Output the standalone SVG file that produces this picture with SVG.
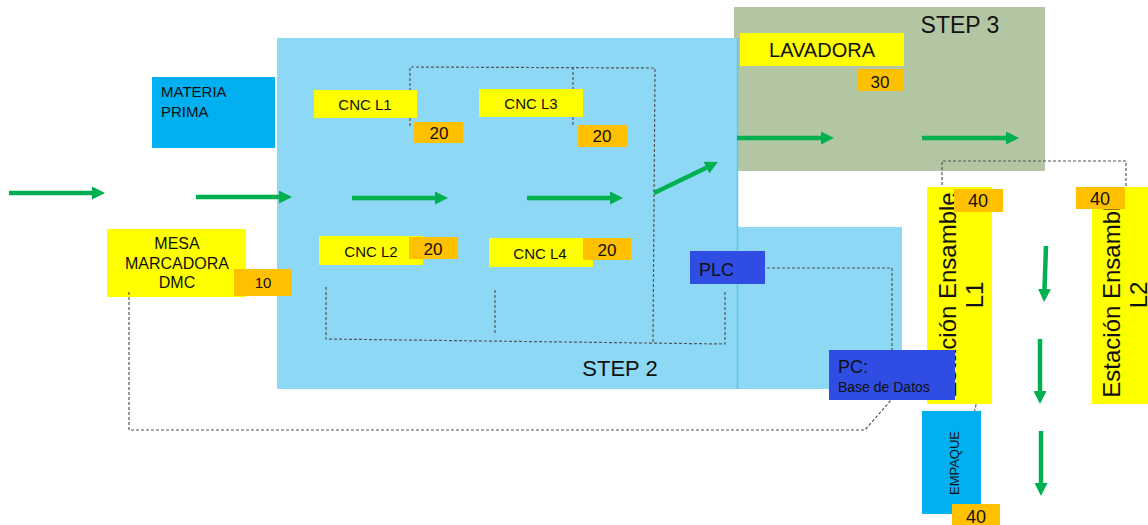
<svg xmlns="http://www.w3.org/2000/svg" width="1148" height="525" viewBox="0 0 1148 525">
<style>
text{font-family:"Liberation Sans",Arial,sans-serif;fill:#111}
.y{fill:#FFFF00}.o{fill:#FFC000}.b{fill:#00B0F0}.d{fill:#2F4DE2}
.flow{stroke:#00B050;stroke-width:4.5;fill:none;marker-end:url(#ah)}
.dash{stroke:#555;stroke-width:1.2;fill:none;stroke-dasharray:3 2}
.c{text-anchor:middle}
</style>
<defs>
<marker id="ah" viewBox="0 0 13 13" refX="0" refY="6.5" markerWidth="13" markerHeight="13" markerUnits="userSpaceOnUse" orient="auto">
<path d="M0,0 L13,6.5 L0,13 z" fill="#00B050"/>
</marker>
</defs>
<rect width="1148" height="525" fill="#fff"/>
<g id="step3">
<rect x="734" y="7" width="311" height="164" fill="#B2C6A4"/>
<text x="960" y="33" class="c" font-size="23">STEP 3</text>
</g>
<g id="step2">
<rect x="277" y="38" width="460" height="351" fill="#8DD9F5"/>
<rect x="737" y="227" width="165" height="162" fill="#8DD9F5"/>
<line x1="737.5" y1="38" x2="737.5" y2="389" stroke="#5CC6EE" stroke-width="1.5"/>
<text x="620" y="376" class="c" font-size="22">STEP 2</text>
</g>
<g id="materia-prima">
<rect x="152" y="77" width="123" height="71" class="b"/>
<text x="161" y="97" font-size="15">MATERIA</text>
<text x="161" y="117" font-size="15">PRIMA</text>
</g>
<g id="mesa">
<rect x="107" y="229" width="139" height="68" class="y"/>
<text x="177" y="249" class="c" font-size="16">MESA</text>
<text x="177" y="269" class="c" font-size="16">MARCADORA</text>
<text x="177" y="288" class="c" font-size="16">DMC</text>
<rect x="234" y="269" width="58" height="27" class="o"/>
<text x="263" y="288" class="c" font-size="15">10</text>
</g>
<g id="connectors">
<polyline class="dash" points="410,126 410,67 655,68 653,342"/>
<line class="dash" x1="573" y1="67" x2="573" y2="126"/>
<polyline class="dash" points="326,287 326,339 725,344 725,292"/>
<line class="dash" x1="495" y1="290" x2="495" y2="333"/>
<polyline class="dash" points="767,268 892,268 892,350"/>
<polyline class="dash" points="129,292 129,430 865,430 891,400"/>
<polyline class="dash" points="942,200 942,161 1126,161 1126,212"/>
<line class="dash" x1="981" y1="385" x2="968" y2="437"/>
<line class="flow" x1="9" y1="193" x2="92" y2="193"/>
<line class="flow" x1="196" y1="197" x2="279" y2="197"/>
<line class="flow" x1="352" y1="198" x2="435" y2="198"/>
<line class="flow" x1="527" y1="198" x2="610" y2="198"/>
<line class="flow" x1="654" y1="193" x2="706.3" y2="167.7"/>
<line class="flow" x1="737" y1="138" x2="821" y2="138"/>
<line class="flow" x1="922" y1="138" x2="1006" y2="138"/>
<line class="flow" x1="1046" y1="246" x2="1044.5" y2="289"/>
<line class="flow" x1="1040" y1="339" x2="1040" y2="391"/>
<line class="flow" x1="1041" y1="431" x2="1041" y2="483"/>
</g>
<g id="cnc-l1">
<rect x="314" y="90" width="103" height="28" class="y"/>
<text x="365" y="110" class="c" font-size="15">CNC L1</text>
<rect x="414" y="122" width="49" height="21" class="o"/>
<text x="439" y="139" class="c" font-size="17">20</text>
</g>
<g id="cnc-l3">
<rect x="479" y="89" width="104" height="28" class="y"/>
<text x="531" y="109" class="c" font-size="15">CNC L3</text>
<rect x="578" y="125" width="49" height="22" class="o"/>
<text x="602" y="142" class="c" font-size="17">20</text>
</g>
<g id="cnc-l2">
<rect x="319" y="236" width="104" height="29" class="y"/>
<text x="371" y="257" class="c" font-size="15">CNC L2</text>
<rect x="409" y="237" width="49" height="22" class="o"/>
<text x="433" y="255" class="c" font-size="17">20</text>
</g>
<g id="cnc-l4">
<rect x="489" y="238" width="104" height="29" class="y"/>
<text x="540" y="259" class="c" font-size="15">CNC L4</text>
<rect x="583" y="238" width="48" height="22" class="o"/>
<text x="607" y="256" class="c" font-size="17">20</text>
</g>
<g id="lavadora">
<rect x="740" y="33" width="164" height="33" class="y"/>
<text x="822" y="57" class="c" font-size="20">LAVADORA</text>
<rect x="857" y="69" width="47" height="22" class="o"/>
<text x="880" y="88" class="c" font-size="17">30</text>
</g>
<g id="plc">
<rect x="690" y="251" width="75" height="33" class="d"/>
<text x="699" y="276" font-size="18">PLC</text>
</g>
<g id="estacion-l1">
<rect x="927" y="187" width="65" height="217" class="y"/>
<text transform="translate(956,295) rotate(-90)" class="c" font-size="24"><tspan x="0" y="0">Estación Ensamble</tspan><tspan x="0" y="27">L1</tspan></text>
<rect x="954" y="189" width="49" height="23" class="o"/>
<text x="978" y="207" class="c" font-size="18">40</text>
</g>
<g id="estacion-l2">
<rect x="1092" y="187" width="65" height="217" class="y"/>
<text transform="translate(1120,295) rotate(-90)" class="c" font-size="24"><tspan x="0" y="0">Estación Ensamble</tspan><tspan x="0" y="27">L2</tspan></text>
<rect x="1076" y="187" width="49" height="22" class="o"/>
<text x="1100" y="205" class="c" font-size="18">40</text>
</g>
<g id="pc">
<rect x="829" y="350" width="126" height="50" class="d"/>
<text x="838" y="373" font-size="18">PC:</text>
<text x="838" y="392" font-size="14">Base de Datos</text>
</g>
<g id="empaque">
<rect x="922" y="411" width="59" height="103" class="b"/>
<text transform="translate(959,463) rotate(-90)" class="c" font-size="13">EMPAQUE</text>
<rect x="952" y="504" width="48" height="24" class="o"/>
<text x="976" y="523" class="c" font-size="18">40</text>
</g>
</svg>
